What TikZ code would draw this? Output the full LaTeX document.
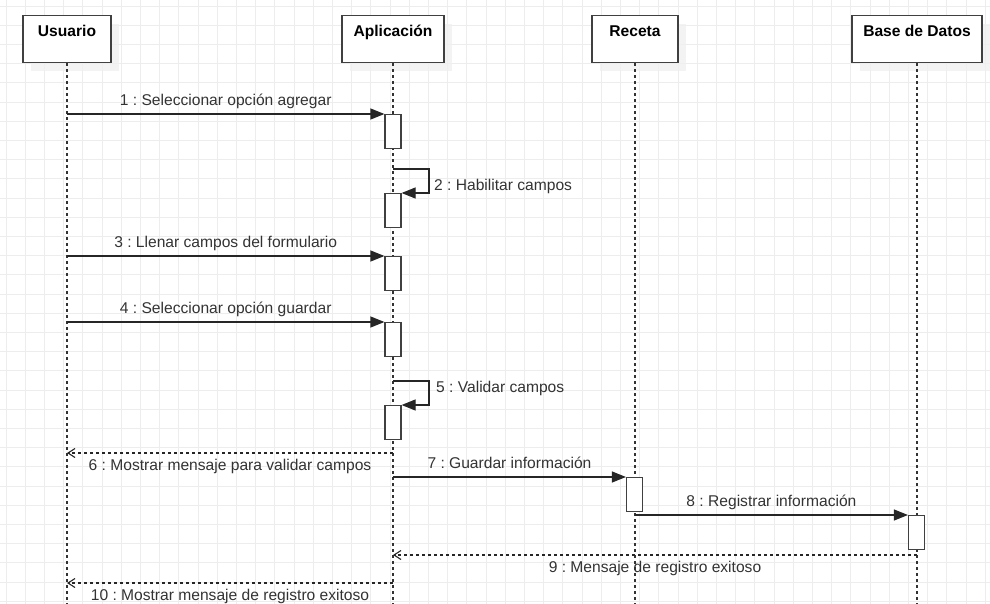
\documentclass[tikz,border=0pt]{standalone}
\usepackage{fontspec}
\setmainfont{Liberation Sans}
\usetikzlibrary{arrows.meta,shadows}
\frenchspacing

\begin{document}
\begin{tikzpicture}[x=1pt,y=-1pt,font=\fontsize{15.6}{18}\selectfont,
    gridline/.style={black!7,line width=0.8pt},
    head/.style={draw=black!75,line width=1.3pt,fill=white,anchor=north,inner sep=0pt,
      text height=20.6pt,text depth=26.4pt,font=\fontsize{15.6}{18}\selectfont\bfseries,
      drop shadow={shadow xshift=8pt,shadow yshift=-8pt,fill=black!6,opacity=0.8}},
    life/.style={black!80,line width=1.3pt,dash pattern=on 3pt off 3pt},
    act/.style={draw=black!75,line width=1.2pt,fill=white,anchor=north,
      minimum width=16pt,minimum height=34pt,inner sep=0pt},
    msg/.style={black!85,line width=1.2pt,-{Triangle[length=14pt,width=11pt]}},
    ret/.style={black!85,line width=1.1pt,dash pattern=on 3pt off 3pt,
      -{Straight Barb[length=7pt,width=9pt]}},
    lbl/.style={text=black!80,inner sep=0pt,text height=11pt,text depth=3.5pt}]
    \useasboundingbox (0,0) rectangle (990,604);

    \foreach \k in {0,...,51}
        \draw[gridline] ({6+19.2*\k},0) -- ({6+19.2*\k},604);
    \foreach \k in {0,...,31}
        \draw[gridline] (0,{6+19.2*\k}) -- (990,{6+19.2*\k});

    \node[head,minimum width=88pt] (usuario) at (67,15) {Usuario};
    \node[head,minimum width=102pt] (aplicacion) at (393,15) {Aplicación};
    \node[head,minimum width=86pt] (receta) at (635,15) {Receta};
    \node[head,minimum width=130pt] (bd) at (917,15) {Base de Datos};

    \coordinate (bottom) at (0,604);
    \foreach \p in {usuario,aplicacion,receta,bd}
        \draw[life] (\p.south) -- (\p.south |- bottom);

    \node[act] (a1) at (393,114) {};
    \node[act] (a2) at (393,193) {};
    \node[act] (a3) at (393,256) {};
    \node[act] (a4) at (393,322) {};
    \node[act] (a5) at (393,405) {};
    \node[act] (r1) at (634.5,477) {};
    \node[act] (b1) at (916.5,515) {};

    \foreach \a/\txt in {a1/1 : Seleccionar opción agregar,
                         a3/3 : Llenar campos del formulario,
                         a4/4 : Seleccionar opción guardar}
        \draw[msg] (usuario.south |- \a.north) -- node[lbl,above=4pt] {\txt} (\a.north west);

    \coordinate (s2) at (393,169);
    \coordinate (s5) at (393,381);
    \draw[msg] (s2) -- ++(36,0) |- (a2.north east);
    \draw[msg] (s5) -- ++(36,0) |- (a5.north east);
    \node[lbl,anchor=base west] (l2) at (434,190.6) {2 : Habilitar campos};
    \node[lbl,anchor=base west] (l5) at (436,392.6) {5 : Validar campos};

    \coordinate (m6) at (0,453);
    \coordinate (m9) at (0,555);
    \coordinate (m10) at (0,583);

    \draw[ret] (aplicacion.south |- m6) -- node[lbl,below=6pt] {6 : Mostrar mensaje para validar campos} (usuario.south |- m6);
    \draw[msg] (aplicacion.south |- r1.north) -- node[lbl,above=4pt] {7 : Guardar información} (r1.north west);
    \draw[msg] (receta.south |- b1.north) -- node[lbl,above=4pt] {8 : Registrar información} (b1.north west);
    \draw[ret] (bd.south |- m9) -- node[lbl,below=6pt] {9 : Mensaje de registro exitoso} (aplicacion.south |- m9);
    \draw[ret] (aplicacion.south |- m10) -- node[lbl,below=6pt] {10 : Mostrar mensaje de registro exitoso} (usuario.south |- m10);
\end{tikzpicture}
\end{document}
